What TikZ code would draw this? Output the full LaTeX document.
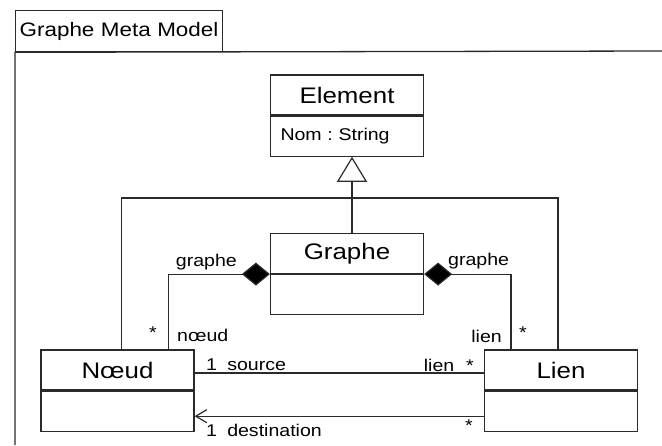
\documentclass[tikz,border=0pt]{standalone}
\usepackage{fontspec}
\setmainfont[FakeStretch=1.15]{Liberation Sans}
\usepackage{tikz}
\usetikzlibrary{positioning,arrows.meta}
\definecolor{linec}{HTML}{2A2A2A}
\newcommand{\clsfont}{\fontsize{22.5}{24}\selectfont}
\newcommand{\lblfont}{\fontsize{17}{19}\selectfont}
\frenchspacing

\begin{document}
\begin{tikzpicture}[x=1pt,y=-1pt,
  frame/.style={draw=linec,line width=1.3pt},
  clsname/.style={draw=linec,line width=1.2pt,minimum width=153pt,minimum height=40pt,inner sep=0pt,font=\clsfont},
  clsbody/.style={draw=linec,line width=1.2pt,minimum width=153pt,minimum height=40pt,inner xsep=10pt,inner ysep=0pt,text width=133pt,align=left,font=\fontsize{17}{19}\selectfont},
  lbl/.style={inner sep=0pt,font=\lblfont},
  assoc/.style={draw=linec,line width=1.2pt},
  inherit/.style={assoc,-{Triangle[open,length=25pt,width=30pt,line width=1.2pt]}},
  compo/.style={assoc,-{Diamond[length=28pt,width=23pt,fill=black]}},
  nav/.style={assoc,-{Straight Barb[length=11pt,width=13pt,line width=1.2pt]}}]
  \useasboundingbox (0,0) rectangle (662,445);
  % package frame
  \node[frame,anchor=north west,minimum height=41pt,inner xsep=4pt,inner ysep=0pt,text width=199pt,font=\fontsize{19.5}{21}\selectfont] (tab) at (15,10) {Graphe Meta Model};
  \draw[frame] (662,51) -- (tab.south west) -- (15,445);
  % classes
  \node[clsname] (elem) at (347,95) {Element};
  \node[clsbody,below=0pt of elem] (elemb) {Nom : String};
  \node[clsname] (graphe) at (347,253.5) {Graphe};
  \node[clsbody,below=0pt of graphe] (grapheb) {};
  \node[clsname] (noeud) at (117.5,370) {Nœud};
  \node[clsbody,below=0pt of noeud] (noeudb) {};
  \node[clsname] (lien) at (561,370) {Lien};
  \node[clsbody,below=0pt of lien] (lienb) {};
  % generalisation
  \coordinate (junc) at (352,198);
  \draw[assoc] (graphe.north -| junc) -- (junc);
  \draw[inherit] (junc) -- (elemb.south -| junc);
  \draw[assoc] ([xshift=81pt]noeud.north west) |- (junc) -| ([xshift=74pt]lien.north west);
  % composition
  \draw[compo] ([xshift=128pt]noeud.north west) |- (graphe.south west);
  \draw[compo] ([xshift=27pt]lien.north west) |- (graphe.south east);
  \node[lbl,anchor=east] (grl) at (237,262) {graphe};
  \node[lbl,anchor=west] (grr) at (448,261) {graphe};
  \node[lbl] (stl) at (153,333) {*};
  \node[lbl,anchor=west] (nrole) at (177,335) {nœud};
  \node[lbl,anchor=east] (lrole) at (502,336) {lien};
  \node[lbl] (str) at (523,333) {*};
  % associations
  \draw[assoc] ([yshift=-3pt]noeud.east) -- ([yshift=-3pt]noeud.east -| lien.west);
  \draw[nav] ([yshift=-5pt]lienb.west) -- ([yshift=-5pt]lienb.west -| noeudb.east);
  \node[lbl,anchor=west] (src) at (206,365) {1\hspace{0.6em}source};
  \node[lbl,anchor=east] (srcl) at (474,365) {lien\hspace{0.7em}*};
  \node[lbl,anchor=west] (dst) at (206,430) {1\hspace{0.6em}destination};
  \node[lbl] (dsts) at (469,426) {*};
\end{tikzpicture}
\end{document}
